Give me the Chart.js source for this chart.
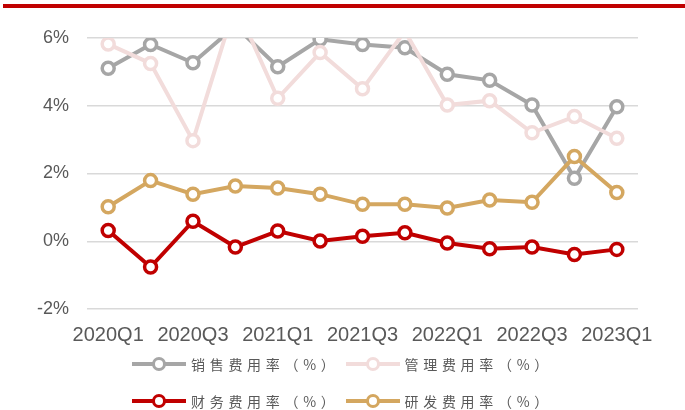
<!DOCTYPE html>
<html>
<head>
<meta charset="utf-8">
<script src="https://cdn.jsdelivr.net/npm/chart.js@4/dist/chart.umd.min.js"></script>
<style>
  body { margin: 0; background: #fff; }
  .wrap { position: relative; width: 685px; height: 410px; overflow: hidden; }
  .topbar { position: absolute; left: 3px; top: 4px; width: 682px; height: 4px; background: #c00000; }
  canvas { position: absolute; left: 0; top: 0; }
  .legend { position: absolute; left: 0; width: 685px; top: 354px; }
  .legend .row { display: flex; justify-content: center; height: 37px; align-items: flex-start; }
  .legend .item { display: flex; align-items: center; margin: 0 3px; height: 20px; }
  .legend .mark { position: relative; width: 54px; height: 20px; margin-right: 5px; }
  .legend .mark .ln { position: absolute; left: 0; right: 0; top: 8px; height: 4px; }
  .legend .mark .dot { position: absolute; left: 20px; top: 3px; width: 8px; height: 8px; border-radius: 50%; background: #fff; border-width: 3px; border-style: solid; }
  .legend .txt { font-family: "Noto Sans CJK SC", sans-serif; font-size: 14px; letter-spacing: 4.7px; color: #595959; white-space: nowrap; }
</style>
</head>
<body>
<div class="wrap">
  <div class="topbar"></div>
  <canvas id="chart" width="685" height="410"></canvas>
  <div class="legend" id="legend"></div>
</div>
<script>
// quarters on the x axis
const quarters = ['2020Q1', '2020Q2', '2020Q3', '2020Q4', '2021Q1', '2021Q2', '2021Q3',
  '2021Q4', '2022Q1', '2022Q2', '2022Q3', '2022Q4', '2023Q1'];

// expense ratios in %
const salesRate = [5.11, 5.81, 5.27, 6.35, 5.15, 5.96, 5.81, 5.71, 4.93, 4.75, 4.02, 1.86, 3.97];
const adminRate = [5.82, 5.25, 2.97, 7.0, 4.22, 5.57, 4.50, 6.2, 4.02, 4.15, 3.20, 3.68, 3.04];
const financeRate = [0.32, -0.76, 0.59, -0.17, 0.30, 0.01, 0.15, 0.25, -0.05, -0.22, -0.17, -0.39, -0.24];
const rdRate = [1.02, 1.79, 1.39, 1.63, 1.57, 1.39, 1.09, 1.09, 0.98, 1.22, 1.15, 2.50, 1.44];

const seriesNames = ['销售费用率（%）', '管理费用率（%）', '财务费用率（%）', '研发费用率（%）'];
const seriesColors = ['#a6a6a6', '#f2dcdb', '#c00000', '#d4a760'];

// y axis range
const yMin = -2;
const yMax = 6;
const yStep = 2;

const tickFont = { family: '"Liberation Sans", Arial, sans-serif' };

const makeDataset = (i, data, order) => ({
    label: seriesNames[i],
    data: data,
    borderColor: seriesColors[i],
    backgroundColor: '#ffffff',
    borderWidth: 4,
    // points above the axis max are hidden, the line is cut at the top
    pointRadius: ctx => (ctx.raw > yMax ? 0 : 6),
    pointBorderWidth: 3.5,
    pointBackgroundColor: '#ffffff',
    pointBorderColor: seriesColors[i],
    tension: 0,
    order: order,
    clip: { left: false, right: false, bottom: false, top: 0 },
});

new Chart(document.getElementById('chart'), {
    type: 'line',
    data: {
        labels: quarters,
        datasets: [
            makeDataset(0, salesRate, 4),
            makeDataset(1, adminRate, 3),
            makeDataset(2, financeRate, 2),
            makeDataset(3, rdRate, 1),
        ],
    },
    options: {
        responsive: false,
        animation: false,
        layout: { padding: { left: 0, right: 47, top: 38, bottom: 0 } },
        plugins: {
            legend: { display: false },
            tooltip: { enabled: false },
        },
        scales: {
            x: {
                offset: true,
                grid: { display: false, drawTicks: false },
                border: { display: false },
                ticks: {
                    autoSkip: false,
                    maxRotation: 0,
                    minRotation: 0,
                    padding: 14,
                    color: '#595959',
                    font: { ...tickFont, size: 20 },
                    callback: (value, index) => (index % 2 === 0 ? quarters[index] : null),
                },
                afterFit: s => { s.height = 101; },
            },
            y: {
                min: yMin,
                max: yMax,
                grid: { color: '#d9d9d9', lineWidth: 1.5, drawTicks: false },
                border: { display: false },
                ticks: {
                    stepSize: yStep,
                    padding: 18,
                    color: '#595959',
                    font: { ...tickFont, size: 18 },
                    callback: v => v + '%',
                },
                afterFit: s => { s.width = 87; },
            },
        },
    },
});

// legend, two items per row like the original
const legendEl = document.getElementById('legend');
[[0, 1], [2, 3]].forEach(pair => {
    const row = document.createElement('div');
    row.className = 'row';
    pair.forEach(i => {
        const item = document.createElement('div');
        item.className = 'item';
        item.innerHTML =
            '<span class="mark"><span class="ln" style="background:' + seriesColors[i] + '"></span>' +
            '<span class="dot" style="border-color:' + seriesColors[i] + '"></span></span>' +
            '<span class="txt">' + seriesNames[i] + '</span>';
        row.appendChild(item);
    });
    legendEl.appendChild(row);
});
</script>
</body>
</html>
